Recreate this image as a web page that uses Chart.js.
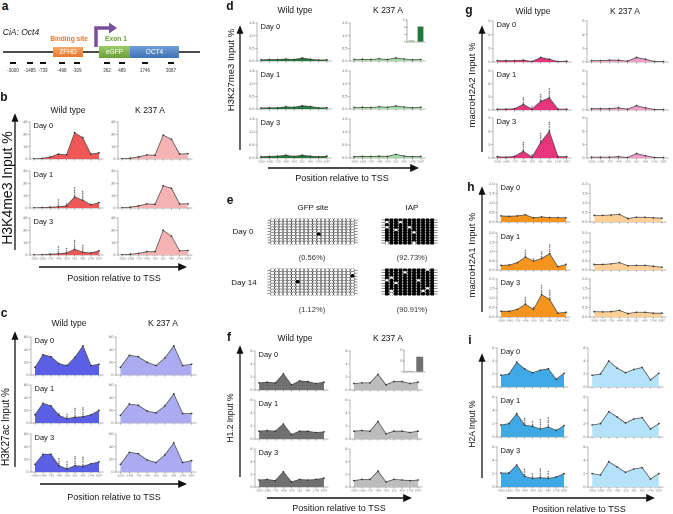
<!DOCTYPE html>
<html>
<head>
<meta charset="utf-8">
<script src="https://cdn.jsdelivr.net/npm/chart.js@4.4.0/dist/chart.umd.min.js"></script>
<style>
body { margin: 0; background: #fff; }
#fig { position: relative; width: 673px; height: 514px; overflow: hidden; font-family: "Liberation Sans", Arial, sans-serif; color: #111; }
#fig canvas { position: absolute; }
.t { position: absolute; white-space: nowrap; line-height: 1; transform: translate(-50%, -50%); }
.tl { position: absolute; white-space: nowrap; line-height: 1; transform: translateY(-50%); }
.rot { position: absolute; white-space: nowrap; line-height: 1; transform: translate(-50%, -50%) rotate(-90deg); }
svg { position: absolute; left: 0; top: 0; pointer-events: none; }
</style>
</head>
<body>
<div id="fig">
<svg width="673" height="514" viewBox="0 0 673 514">
  <defs>
    <linearGradient id="gOr" x1="0" y1="0" x2="0" y2="1"><stop offset="0" stop-color="#f6a865"/><stop offset="1" stop-color="#e8772e"/></linearGradient>
    <linearGradient id="gGr" x1="0" y1="0" x2="0" y2="1"><stop offset="0" stop-color="#9ccc65"/><stop offset="1" stop-color="#6a9f38"/></linearGradient>
    <linearGradient id="gBl" x1="0" y1="0" x2="0" y2="1"><stop offset="0" stop-color="#6e9fd8"/><stop offset="1" stop-color="#3f72b5"/></linearGradient>
  </defs>
  <!-- panel a schematic -->
  <line x1="3" y1="52" x2="200" y2="52" stroke="#111" stroke-width="1.4"/>
  <rect x="53" y="47" width="30" height="10" fill="url(#gOr)"/>
  <path d="M96 47 V28 H110" fill="none" stroke="#7b4f9e" stroke-width="3.5"/>
  <polygon points="109,22.5 117,28 109,33.5" fill="#7b4f9e"/>
  <rect x="99" y="46" width="31" height="12" fill="url(#gGr)"/>
  <rect x="130" y="46" width="49" height="12" fill="url(#gBl)"/>
  <g fill="#111">
    <rect x="10" y="62" width="6" height="2"/><rect x="27" y="62" width="6" height="2"/>
    <rect x="40" y="62" width="6" height="2"/><rect x="59" y="62" width="6" height="2"/>
    <rect x="74" y="62" width="6" height="2"/><rect x="104" y="62" width="6" height="2"/>
    <rect x="119" y="62" width="6" height="2"/><rect x="142" y="62" width="6" height="2"/>
    <rect x="168" y="62" width="6" height="2"/>
  </g>
  <!-- axis arrows -->
  <g stroke="#111" stroke-width="1.3" fill="#111">
    <line x1="15" y1="250" x2="15" y2="120"/><polygon points="12.5,121 15,115 17.5,121"/>
    <line x1="15" y1="467" x2="15" y2="338"/><polygon points="12.5,339 15,333 17.5,339"/>
    <line x1="240" y1="150" x2="240" y2="32"/><polygon points="237.5,33 240,27 242.5,33"/>
    <line x1="240" y1="477" x2="240" y2="352"/><polygon points="237.5,353 240,347 242.5,353"/>
    <line x1="482" y1="152" x2="482" y2="32"/><polygon points="479.5,33 482,27 484.5,33"/>
    <line x1="482" y1="312" x2="482" y2="193"/><polygon points="479.5,194 482,188 484.5,194"/>
    <line x1="482" y1="478" x2="482" y2="360"/><polygon points="479.5,361 482,355 484.5,361"/>
  </g>
  <g stroke="#111" stroke-width="1.6" fill="#111">
    <line x1="39" y1="267" x2="180" y2="267"/><polygon points="179,264.3 185,267 179,269.7"/>
    <line x1="40" y1="484" x2="180" y2="484"/><polygon points="179,481.3 185,484 179,486.7"/>
    <line x1="268" y1="168" x2="412" y2="168"/><polygon points="411,165.3 417,168 411,170.7"/>
    <line x1="267" y1="498" x2="405" y2="498"/><polygon points="404,495.3 410,498 404,500.7"/>
    <line x1="507" y1="498" x2="648" y2="498"/><polygon points="647,495.3 653,498 647,500.7"/>
  </g>
</svg>
</div>
<script>
// x categories: primer positions relative to TSS
const positions = ['-3000', '-1485', '-739', '-498', '-309', '362', '489', '1746', '3087'];
const days = ['Day 0', 'Day 1', 'Day 3'];

// b: H3K4me3 (rows = day 0, 1, 3)
const k4me3WT = [
    [0.3, 0.8, 2.5, 6, 5, 32, 26, 6, 7.5],
    [0.3, 0.6, 1, 1.5, 2.5, 13.5, 9.5, 4, 6.5],
    [0.3, 0.5, 1, 1.5, 2.5, 7, 3.5, 2.5, 5]
];
const k4me3K237A = [
    [0.3, 1, 2.5, 5, 4.5, 29, 24, 6, 6.5],
    [0.3, 1, 2.5, 5, 4.5, 27, 24, 5, 5],
    [0.3, 1, 2, 4, 4, 30, 23, 5, 5.5]
];
const k4me3Stars = [null, [0, 0, 0, 3, 1, 4, 4, 0, 0], [0, 0, 0, 3, 2, 4, 3, 0, 0]];

// c: H3K27ac
const k27acWT = [
    [12, 32, 29, 18, 15, 28, 46, 15, 17],
    [13, 31, 27, 12, 7, 9, 10, 13, 20],
    [12, 28, 28, 10, 5, 10, 9, 13, 16]
];
const k27acK237A = [
    [12, 31, 29, 20, 15, 27, 46, 15, 17],
    [12, 30, 28, 19, 16, 27, 46, 15, 15],
    [12, 31, 29, 19, 15, 27, 46, 15, 18]
];
const k27acStars = [null, [0, 0, 0, 1, 2, 4, 4, 0, 0], [0, 0, 0, 3, 3, 4, 4, 0, 0]];

// d: H3K27me3
const k27me3WT = [
    [0.05, 0.06, 0.06, 0.08, 0.06, 0.12, 0.07, 0.04, 0.05],
    [0.04, 0.05, 0.05, 0.09, 0.07, 0.13, 0.10, 0.05, 0.05],
    [0.05, 0.06, 0.07, 0.11, 0.06, 0.11, 0.07, 0.05, 0.07]
];
const k27me3K237A = [
    [0.06, 0.07, 0.06, 0.09, 0.06, 0.12, 0.08, 0.05, 0.06],
    [0.06, 0.07, 0.06, 0.09, 0.07, 0.12, 0.08, 0.05, 0.07],
    [0.05, 0.06, 0.06, 0.07, 0.06, 0.14, 0.07, 0.05, 0.06]
];

// f: H1.2
const h12WT = [
    [1.1, 1.2, 1.1, 2.5, 0.8, 1.4, 1.3, 1.0, 1.2],
    [1.2, 1.3, 1.2, 2.3, 0.7, 1.2, 1.2, 1.0, 1.1],
    [1.1, 1.2, 1.0, 2.4, 0.8, 1.2, 1.1, 1.2, 1.4]
];
const h12K237A = [
    [1.0, 1.1, 1.1, 2.4, 0.8, 1.3, 1.3, 1.0, 1.2],
    [1.2, 1.3, 1.2, 2.7, 0.8, 1.2, 1.2, 1.0, 1.2],
    [1.0, 1.2, 1.2, 2.5, 0.8, 1.2, 1.1, 1.0, 1.1]
];

// g: macroH2A2
const mh2a2WT = [
    [0.3, 0.3, 0.3, 0.4, 0.1, 1.0, 0.6, 0.1, 0.2],
    [0.2, 0.2, 0.3, 1.3, 0.2, 2.0, 2.8, 0.2, 0.2],
    [0.3, 0.2, 0.4, 1.5, 0.2, 3.5, 6.0, 0.3, 0.3]
];
const mh2a2K237A = [
    [0.3, 0.3, 0.4, 0.4, 0.2, 1.0, 0.6, 0.1, 0.1],
    [0.3, 0.3, 0.3, 0.5, 0.2, 1.0, 0.5, 0.1, 0.1],
    [0.2, 0.2, 0.2, 0.3, 0.1, 1.0, 0.5, 0.1, 0.1]
];
const mh2a2Stars = [null, [0, 0, 0, 3, 1, 3, 4, 0, 0], [0, 0, 0, 4, 1, 4, 4, 0, 0]];

// h: macroH2A1
const mh2a1WT = [
    [0.32, 0.30, 0.32, 0.38, 0.22, 0.27, 0.23, 0.23, 0.22],
    [0.25, 0.27, 0.40, 0.70, 0.48, 0.62, 0.88, 0.18, 0.30],
    [0.30, 0.30, 0.40, 0.68, 0.40, 1.18, 0.92, 0.20, 0.25]
];
const mh2a1K237A = [
    [0.35, 0.35, 0.37, 0.40, 0.18, 0.25, 0.25, 0.22, 0.20],
    [0.30, 0.30, 0.33, 0.40, 0.23, 0.25, 0.25, 0.20, 0.15],
    [0.28, 0.27, 0.28, 0.35, 0.18, 0.25, 0.25, 0.20, 0.20]
];
const mh2a1Stars = [null, [0, 0, 0, 3, 1, 3, 4, 0, 0], [0, 0, 0, 3, 1, 4, 4, 0, 0]];

// i: H2A
const h2aWT = [
    [1.8, 2.0, 3.8, 2.8, 2.2, 2.6, 2.8, 1.2, 2.1],
    [1.8, 2.0, 3.5, 1.8, 1.6, 1.2, 1.5, 1.0, 1.7],
    [2.1, 2.1, 3.3, 1.6, 1.3, 1.4, 1.3, 1.5, 2.0]
];
const h2aK237A = [
    [1.8, 2.0, 4.0, 2.9, 2.2, 2.7, 3.0, 1.1, 2.1],
    [1.8, 2.0, 3.8, 3.0, 2.1, 2.7, 2.9, 1.2, 2.0],
    [2.0, 1.8, 3.8, 3.0, 2.2, 2.7, 2.9, 1.2, 2.0]
];
const h2aStars = [null, [0, 0, 0, 3, 2, 4, 4, 0, 0], [0, 0, 0, 3, 2, 4, 3, 0, 0]];

// insets (d and f)
const insetLabels = ['Day0', 'Day3'];
const insetD = [0.8, 8.5];
const insetF = [1.0, 14];

// e: bisulfite dots, [column, row] of the odd ones out
const gfpDay0Methylated = [[11, 5]];
const gfpDay14Methylated = [[6, 4], [19, 2]];
const iapDay0Unmethylated = [[0, 1], [3, 1], [0, 3], [2, 4], [5, 3], [6, 5], [0, 9], [6, 9]];
const iapDay14Unmethylated = [[9, 0], [4, 1], [1, 3], [0, 4], [7, 4], [2, 5], [9, 7], [1, 8], [8, 8], [1, 9]];

const fig = document.getElementById('fig');
Chart.defaults.font.family = '"Liberation Sans", Arial, sans-serif';
Chart.defaults.devicePixelRatio = 2;

function addText(str, x, y, size, extra, cls) {
    const d = document.createElement('div');
    d.className = cls || 't';
    d.textContent = str;
    d.style.left = x + 'px';
    d.style.top = y + 'px';
    d.style.fontSize = size + 'px';
    if (extra) Object.assign(d.style, extra);
    fig.appendChild(d);
}

function addCanvas(left, top, w, h) {
    const c = document.createElement('canvas');
    c.width = w;
    c.height = h;
    c.style.left = left + 'px';
    c.style.top = top + 'px';
    c.style.width = w + 'px';
    c.style.height = h + 'px';
    fig.appendChild(c);
    return c;
}

const starPlugin = {
    id: 'stars',
    afterDatasetsDraw(chart, args, opts) {
        if (!opts.counts) return;
        const ctx = chart.ctx;
        const pts = chart.getDatasetMeta(0).data;
        ctx.save();
        ctx.fillStyle = '#333';
        ctx.font = '5px "Liberation Sans"';
        ctx.textAlign = 'center';
        pts.forEach((p, i) => {
            for (let k = 0; k < opts.counts[i]; k++) {
                ctx.fillText('*', p.x, p.y + 1 - k * 2.3);
            }
        });
        ctx.restore();
    }
};

function makeProfile(x0, x1, y0, y1, values, fill, ymax, ystep, dec, stars, showX) {
    const padL = 13, padR = 2, padT = 3, padB = 7;
    const w = x1 - x0 + padL + padR, h = y1 - y0 + padT + padB;
    const c = addCanvas(x0 - padL, y0 - padT, w, h);
    new Chart(c, {
        type: 'line',
        data: {
            labels: positions,
            datasets: [{
                data: values,
                fill: 'origin',
                backgroundColor: fill,
                borderColor: '#555',
                borderWidth: 0.8,
                pointRadius: 0.9,
                pointBackgroundColor: '#333',
                pointBorderWidth: 0,
                tension: 0
            }]
        },
        options: {
            responsive: false,
            animation: false,
            layout: { padding: { top: padT, right: padR, left: 0, bottom: 0 } },
            plugins: { legend: { display: false }, tooltip: { enabled: false }, stars: { counts: stars } },
            scales: {
                x: {
                    offset: true,
                    grid: { drawOnChartArea: false, tickLength: 1.5, color: '#999' },
                    border: { color: '#999', width: 0.7 },
                    ticks: {
                        font: { size: 3 }, color: '#777', padding: 0.5,
                        maxRotation: 0, minRotation: 0, autoSkip: false,
                        callback: function (v) { return showX ? this.getLabelForValue(v) : ''; }
                    },
                    afterFit: s => { s.height = padB; }
                },
                y: {
                    min: 0, max: ymax,
                    grid: { drawOnChartArea: false, tickLength: 1.5, color: '#999' },
                    border: { color: '#999', width: 0.7 },
                    ticks: { stepSize: ystep, font: { size: 4 }, color: '#666', padding: 1, callback: v => v.toFixed(dec) },
                    afterFit: s => { s.width = padL; }
                }
            }
        },
        plugins: [starPlugin]
    });
}

function makeInset(x0, x1, y0, y1, vals, colors, ymax, ystep) {
    const padL = 6, padB = 3, padT = 1;
    const c = addCanvas(x0 - padL, y0 - padT, x1 - x0 + padL + 1, y1 - y0 + padT + padB);
    new Chart(c, {
        type: 'bar',
        data: { labels: insetLabels, datasets: [{ data: vals, backgroundColor: colors, borderColor: '#444', borderWidth: 0.3, barPercentage: 0.75, categoryPercentage: 0.9 }] },
        options: {
            responsive: false,
            animation: false,
            layout: { padding: { top: padT, right: 1 } },
            plugins: { legend: { display: false }, tooltip: { enabled: false } },
            scales: {
                x: { grid: { display: false }, border: { color: '#666', width: 0.5 }, ticks: { font: { size: 2.2 }, color: '#555', padding: 0, maxRotation: 0 }, afterFit: s => { s.height = padB; } },
                y: { min: 0, max: ymax, grid: { drawOnChartArea: false, tickLength: 1, color: '#666' }, border: { color: '#666', width: 0.5 }, ticks: { stepSize: ystep, font: { size: 2.5 }, color: '#555', padding: 0.5 }, afterFit: s => { s.width = padL; } }
            }
        }
    });
}

const rowLinePlugin = {
    id: 'rowLines',
    beforeDatasetsDraw(chart) {
        const ctx = chart.ctx, y = chart.scales.y, a = chart.chartArea;
        ctx.save();
        ctx.strokeStyle = '#222';
        ctx.lineWidth = 0.5;
        for (let r = 0; r <= y.max; r++) {
            ctx.beginPath();
            ctx.moveTo(a.left, y.getPixelForValue(r));
            ctx.lineTo(a.right, y.getPixelForValue(r));
            ctx.stroke();
        }
        ctx.restore();
    }
};

function makeDots(x0, x1, y0, y1, cols, rows, odd, baseFilled, radius) {
    const pts = [], colors = [];
    for (let r = 0; r < rows; r++) {
        for (let c = 0; c < cols; c++) {
            pts.push({ x: c, y: r });
            const flip = odd.some(p => p[0] === c && p[1] === r);
            colors.push(baseFilled !== flip ? '#000' : '#fff');
        }
    }
    const c = addCanvas(x0, y0, x1 - x0, y1 - y0);
    new Chart(c, {
        type: 'scatter',
        data: { datasets: [{ data: pts, pointRadius: radius, pointBackgroundColor: colors, pointBorderColor: '#111', pointBorderWidth: 0.45 }] },
        options: {
            responsive: false,
            animation: false,
            layout: { padding: 0 },
            plugins: { legend: { display: false }, tooltip: { enabled: false } },
            scales: {
                x: { type: 'linear', min: -1.2, max: cols + 0.2, display: false },
                y: { type: 'linear', min: -0.6, max: rows - 0.4, reverse: true, display: false }
            }
        },
        plugins: [rowLinePlugin]
    });
}

// ---- profile panels ----
const panels = [
    { wt: k4me3WT, ko: k4me3K237A, stars: k4me3Stars, max: 45, step: 15, dec: 0, wtFill: '#f05757', koFill: '#f6b3b3',
      left: [30, 105], right: [118, 194], rows: [[121, 159], [170, 208], [217, 255]] },
    { wt: k27acWT, ko: k27acK237A, stars: k27acStars, max: 60, step: 20, dec: 0, wtFill: '#5b5fe6', koFill: '#aaabf1',
      left: [31, 105], right: [116, 198], rows: [[336, 375], [384, 423], [433, 472]] },
    { wt: k27me3WT, ko: k27me3K237A, stars: null, max: 1.5, step: 0.5, dec: 1, wtFill: '#1f7a3a', koFill: '#a3dca3',
      left: [257, 333], right: [350, 427], rows: [[22, 61], [70, 109], [118, 158]] },
    { wt: h12WT, ko: h12K237A, stars: null, max: 6, step: 2, dec: 0, wtFill: '#707070', koFill: '#bdbdbd',
      left: [255, 330], right: [350, 424], rows: [[350, 390], [399, 439], [448, 487]] },
    { wt: mh2a2WT, ko: mh2a2K237A, stars: mh2a2Stars, max: 9, step: 3, dec: 0, wtFill: '#e8337d', koFill: '#f39cc3',
      left: [493, 573], right: [587, 670], rows: [[20, 62], [70, 110], [117, 158]] },
    { wt: mh2a1WT, ko: mh2a1K237A, stars: mh2a1Stars, max: 2, step: 0.5, dec: 1, wtFill: '#f7941d', koFill: '#fbcf95',
      left: [497, 572], right: [590, 668], rows: [[183, 222], [232, 270], [278, 317]] },
    { wt: h2aWT, ko: h2aK237A, stars: h2aStars, max: 6, step: 2, dec: 0, wtFill: '#3fa9e6', koFill: '#b3e2f9',
      left: [497, 570], right: [588, 665], rows: [[347, 387], [396, 437], [446, 487]] }
];

panels.forEach(p => {
    p.rows.forEach((r, i) => {
        const last = i === p.rows.length - 1;
        makeProfile(p.left[0], p.left[1], r[0], r[1], p.wt[i], p.wtFill, p.max, p.step, p.dec, p.stars ? p.stars[i] : null, last);
        makeProfile(p.right[0], p.right[1], r[0], r[1], p.ko[i], p.koFill, p.max, p.step, p.dec, null, last);
        addText(days[i], p.left[0] + 3.5, r[0] + 4.5, 7.5, null, 'tl');
    });
});

makeInset(407, 425, 19, 42, insetD, ['#a3dca3', '#1f7a3a'], 12, 4);
makeInset(404, 425, 349, 372, insetF, ['#bdbdbd', '#707070'], 20, 5);

// ---- panel e ----
makeDots(263, 362, 214, 249, 20, 9, gfpDay0Methylated, false, 1.95);
makeDots(263, 362, 264, 300, 20, 9, gfpDay14Methylated, false, 1.95);
makeDots(377, 442, 214, 249, 11, 10, iapDay0Unmethylated, true, 1.9);
makeDots(377, 442, 264, 300, 11, 10, iapDay14Unmethylated, true, 1.9);

// ---- texts ----
const bold = { fontWeight: 'bold' };
[['a', 5, 6], ['b', 4, 97], ['c', 4, 313], ['d', 230, 6], ['e', 230, 200],
 ['f', 229, 337], ['g', 469, 10], ['h', 471, 187], ['i', 470, 340]].forEach(l => addText(l[0], l[1], l[2], 12, bold));

[[68, 110], [69, 323], [295, 10], [295, 338], [533, 11]].forEach(p => addText('Wild type', p[0], p[1], 8.5));
[[150, 110], [163, 323], [388, 10], [388, 338], [625, 11]].forEach(p => addText('K 237 A', p[0], p[1], 8.5));

[[114, 278], [114, 497], [342, 178], [339, 508], [579, 509]].forEach(p => addText('Position relative to TSS', p[0], p[1], 9));

addText('H3K4me3 Input %', 7, 188, 14, null, 'rot');
addText('H3K27ac Input %', 6, 427, 10, null, 'rot');
addText('H3K27me3 Input %', 231, 70, 9.5, null, 'rot');
addText('H1.2 Input %', 230, 418, 8.5, null, 'rot');
addText('macroH2A2 Input %', 472, 85, 9.5, null, 'rot');
addText('macroH2A1 Input %', 472, 255, 9.5, null, 'rot');
addText('H2A Input %', 472, 424, 8.5, null, 'rot');

// panel e texts
addText('GFP site', 313, 208, 8);
addText('IAP', 412, 208, 8);
addText('Day 0', 243, 232, 8);
addText('Day 14', 244, 283, 8);
addText('(0.56%)', 312, 258, 7.5, { color: '#333' });
addText('(92.73%)', 412, 258, 7.5, { color: '#333' });
addText('(1.12%)', 312, 310, 7.5, { color: '#333' });
addText('(90.91%)', 412, 310, 7.5, { color: '#333' });

// panel a texts
addText('CiA: Oct4', 21, 32, 8.5, { fontStyle: 'italic' });
addText('Binding site', 69, 39, 6.6, { fontWeight: 'bold', color: '#e8772e' });
addText('Exon 1', 116, 39, 6.7, { fontWeight: 'bold', color: '#6a9f38' });
addText('ZFHD', 68, 52, 6.5, { color: '#fff' });
addText('eGFP', 114.5, 52, 6.5, { color: '#fff' });
addText('OCT4', 154.5, 52, 6.5, { color: '#fff' });
[['-3000', 13], ['-1485', 30], ['-739', 43], ['-498', 62], ['-309', 77], ['362', 107], ['489', 122], ['1746', 145], ['3087', 171]]
    .forEach(p => addText(p[0], p[1], 71, 4.5, { color: '#333' }));
</script>
</body>
</html>
